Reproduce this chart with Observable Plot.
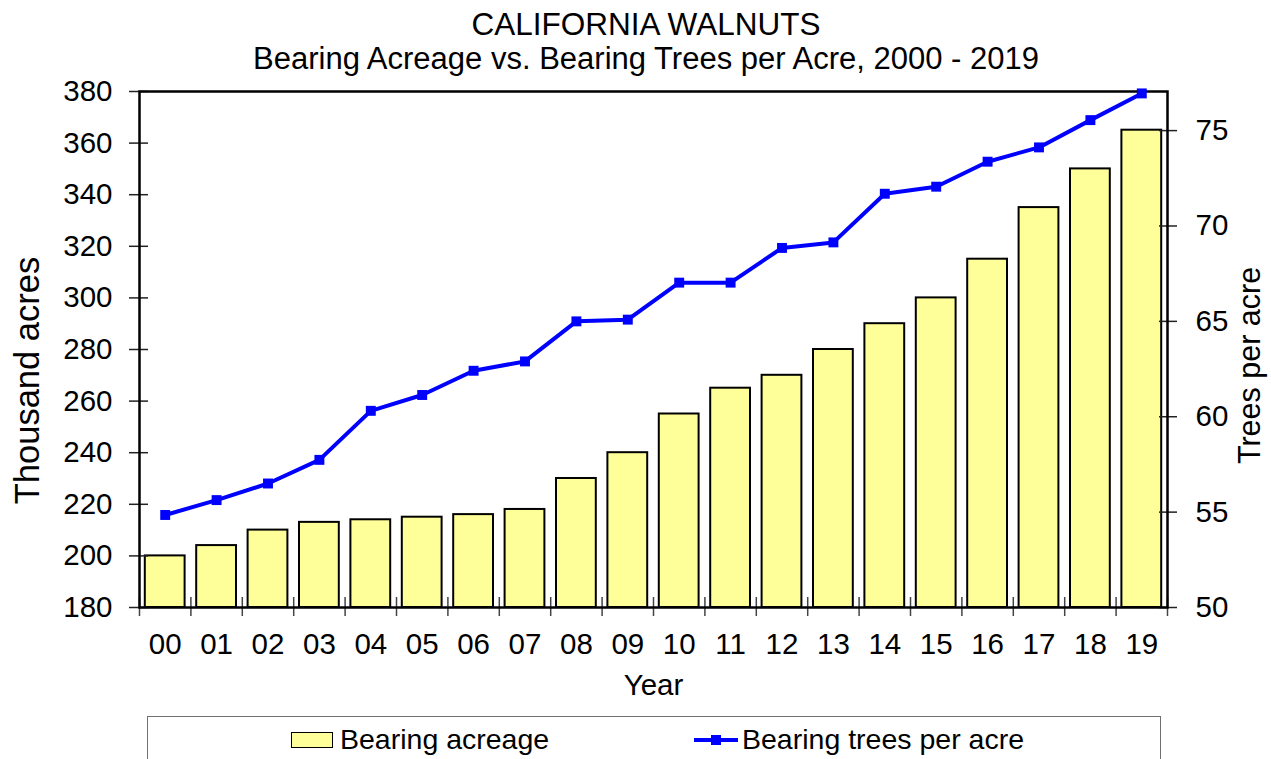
<!DOCTYPE html>
<html>
<head>
<meta charset="utf-8">
<script src="https://cdn.jsdelivr.net/npm/d3@7"></script>
<script src="https://cdn.jsdelivr.net/npm/@observablehq/plot@0.6"></script>
<style>
  html, body { margin: 0; padding: 0; background: white; }
  #wrap { position: relative; width: 1271px; height: 759px; overflow: hidden; font-family: "Liberation Sans", Arial, sans-serif; color: black; }
  .ttl { position: absolute; left: 0; width: 1292px; text-align: center; line-height: 30px; white-space: nowrap; }
  #chart { position: absolute; left: 0; top: 0; }
  #legend { position: absolute; left: 147px; top: 716px; width: 1014px; height: 60px; border: 1.5px solid #707070; box-sizing: border-box; background: white; }
  .lg { position: absolute; font-size: 28.5px; line-height: 28px; white-space: nowrap; }
</style>
</head>
<body>
<div id="wrap">
  <div class="ttl" style="top:9px; font-size:31.5px;">CALIFORNIA WALNUTS</div>
  <div class="ttl" style="top:44px; font-size:31px;">Bearing Acreage vs. Bearing Trees per Acre, 2000 - 2019</div>
  <div id="chart"></div>
  <div id="legend">
    <div style="position:absolute; left:143px; top:15px; width:40px; height:14px; background:#FFFF99; border:1.5px solid black;"></div>
    <div class="lg" style="left:192px; top:8px;">Bearing acreage</div>
    <svg style="position:absolute; left:545px; top:12px;" width="46" height="20">
      <line x1="1" y1="11" x2="45" y2="11" stroke="#0000FF" stroke-width="4"/>
      <rect x="18" y="6" width="10" height="10" fill="#0000FF"/>
    </svg>
    <div class="lg" style="left:594px; top:8px;">Bearing trees per acre</div>
  </div>
</div>
<script>
const years = ["00","01","02","03","04","05","06","07","08","09","10","11","12","13","14","15","16","17","18","19"];
const acreage = [200,204,210,213,214,215,216,218,230,240,255,265,270,280,290,300,315,335,350,365];
const treesPerAcre = [54.85,55.63,56.5,57.74,60.31,61.14,62.41,62.9,65.0,65.09,67.03,67.03,68.85,69.14,71.69,72.06,73.37,74.12,75.55,76.95];
const leftTicks = [180,200,220,240,260,280,300,320,340,360,380];
const rightTicks = [50,55,60,65,70,75];
const leftDomain = [180,380];
const rightDomain = [50,77.05];

const k = (leftDomain[1]-leftDomain[0])/(rightDomain[1]-rightDomain[0]);
const toLeft = v => leftDomain[0] + (v - rightDomain[0]) * k;
const fromLeft = v => rightDomain[0] + (v - leftDomain[0]) / k;

const data = years.map((y, i) => ({i, year: y, acres: acreage[i], trees: toLeft(treesPerAcre[i])}));
const centers = years.map((_, i) => i);
const bounds = d3.range(years.length + 1).map(i => i - 0.5);

const font = "Liberation Sans, Arial, sans-serif";

const chart = Plot.plot({
  width: 1271,
  height: 710,
  marginTop: 91,
  marginBottom: 103,
  marginLeft: 139,
  marginRight: 104,
  style: {fontFamily: font, fontSize: "29px", color: "black", background: "transparent", overflow: "visible"},
  x: {type: "linear", domain: [-0.5, years.length - 0.5]},
  y: {domain: leftDomain},
  marks: [
    Plot.rectY(data, {x1: d => d.i - 0.5, x2: d => d.i + 0.5, y1: leftDomain[0], y2: "acres",
      insetLeft: 5.8, insetRight: 5.8, fill: "#FFFF99", stroke: "black", strokeWidth: 2}),
    Plot.axisY({ticks: leftTicks, anchor: "left", tickSize: 19, dx: 9, tickFormat: () => "", label: null, stroke: "#222", strokeWidth: 1.5}),
    Plot.axisY({ticks: leftTicks, anchor: "left", tickSize: 0, tickPadding: 27, fontSize: 29.5, label: null}),
    Plot.axisY({ticks: rightTicks.map(toLeft), anchor: "right", tickSize: 18, dx: -9, tickFormat: () => "", label: null, stroke: "#222", strokeWidth: 1.5}),
    Plot.axisY({ticks: rightTicks.map(toLeft), anchor: "right", tickSize: 0, tickPadding: 28, fontSize: 29.5, label: null,
      tickFormat: d => String(Math.round(fromLeft(d)))}),
    Plot.axisX({ticks: bounds, anchor: "bottom", tickSize: 19, dy: -10, tickFormat: () => "", label: null, stroke: "#444", strokeWidth: 1.5}),
    Plot.axisX({ticks: centers, anchor: "bottom", tickSize: 0, tickPadding: 26, fontSize: 29.5, label: null,
      tickFormat: i => years[i]}),
    Plot.frame({stroke: "black", strokeWidth: 2.5}),
    Plot.line(data, {x: "i", y: "trees", stroke: "#0000FF", strokeWidth: 4}),
    Plot.dot(data, {x: "i", y: "trees", symbol: "square", r: 5.6, fill: "#0000FF", stroke: "none"}),
    Plot.text(["Thousand acres"], {frameAnchor: "left", textAnchor: "middle", dx: -112, dy: 31, rotate: -90, fontSize: 34.5}),
    Plot.text(["Trees per acre"], {frameAnchor: "right", textAnchor: "middle", dx: 83, dy: 16, rotate: -90, fontSize: 30.5}),
    Plot.text(["Year"], {frameAnchor: "bottom", dy: 87, fontSize: 29.5})
  ]
});
document.getElementById("chart").appendChild(chart);
</script>
</body>
</html>
